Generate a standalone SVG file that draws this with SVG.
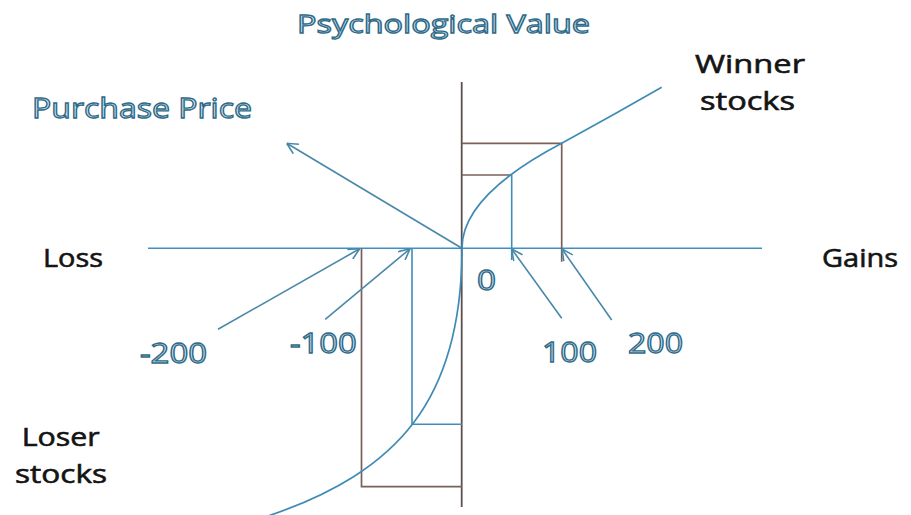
<svg xmlns="http://www.w3.org/2000/svg" width="911" height="515" viewBox="0 0 911 515">
<style>
.bg{fill:#ffffff}
.lbl{font-family:"Open Sans","Liberation Sans",sans-serif;font-size:26px;fill:#141414;stroke:#141414;stroke-width:0.6px}
.wa{font-family:"Open Sans","Liberation Sans",sans-serif;font-weight:normal;fill:#d6e9f1;stroke:#2f6a88;stroke-width:1.3px}
.axisH{stroke:#3f8fc6;stroke-width:1.6;fill:none}
.axisV{stroke:#5d4f4d;stroke-width:1.8;fill:none}
.brown{stroke:#7a5f5a;stroke-width:1.7;fill:none}
.blue{stroke:#3f8dbb;stroke-width:1.6;fill:none}
.curve{stroke:#3e8cb5;stroke-width:1.7;fill:none}
.arr{stroke:#4a88a8;stroke-width:1.6;fill:none;marker-end:url(#ah)}
</style>
<defs>
<marker id="ah" viewBox="0 0 12 12" refX="12" refY="6" markerWidth="12" markerHeight="12" markerUnits="userSpaceOnUse" orient="auto">
<path d="M1,0.5 L12,6 L1,11.5" fill="none" stroke="#4a88a8" stroke-width="1.6"/>
</marker>
</defs>
<rect class="bg" x="0" y="0" width="911" height="515"/>
<g id="axes">
<line class="axisH" x1="148" y1="248.3" x2="762" y2="248.3"/>
<line class="axisV" x1="461.7" y1="82" x2="461.7" y2="507"/>
</g>
<g id="gain-boxes">
<polyline class="brown" points="462,143.3 561.7,143.3 561.7,261.7"/>
<polyline class="brown" points="462,175 511.7,175"/>
<line class="blue" x1="511.7" y1="175" x2="511.7" y2="260"/>
</g>
<g id="loss-boxes">
<polyline class="brown" points="361.5,248.3 361.5,486.7 462,486.7"/>
<polyline class="blue" points="412,248.3 412,424.3 462,424.3"/>
</g>
<g id="value-curve">
<path class="curve" d="M462,248 Q462,195.75 561.7,143.3 Q611.7,116 661.7,87.3"/>
<path class="curve" d="M462,248 C462,400 398,472 268,516"/>
</g>
<g id="connectors">
<line class="arr" x1="461.5" y1="248" x2="286.7" y2="143.3"/>
<line class="arr" x1="218" y1="329.3" x2="359.6" y2="248.8"/>
<line class="arr" x1="325.2" y1="319.3" x2="410" y2="248.8"/>
<line class="arr" x1="561.7" y1="318.3" x2="511.7" y2="249"/>
<line class="arr" x1="611.7" y1="320" x2="562" y2="249"/>
</g>
<g id="title"><text class="wa" x="297" y="33.3" font-size="26" textLength="293" lengthAdjust="spacingAndGlyphs">Psychological Value</text></g>
<g id="purchase-price"><text class="wa" x="32" y="118.3" font-size="28" textLength="220" lengthAdjust="spacingAndGlyphs">Purchase Price</text></g>
<g id="tick-m200"><text class="wa" x="140" y="363" font-size="28" textLength="67" lengthAdjust="spacingAndGlyphs">-200</text></g>
<g id="tick-m100"><text class="wa" x="290" y="352.5" font-size="28" textLength="66.6" lengthAdjust="spacingAndGlyphs">-100</text></g>
<g id="tick-0"><text class="wa" x="477" y="290" font-size="28" textLength="19" lengthAdjust="spacingAndGlyphs">0</text></g>
<g id="tick-100"><text class="wa" x="542" y="361.7" font-size="28" textLength="55" lengthAdjust="spacingAndGlyphs">100</text></g>
<g id="tick-200"><text class="wa" x="628" y="353.3" font-size="28" textLength="55" lengthAdjust="spacingAndGlyphs">200</text></g>
<g id="loss"><text class="lbl" x="43" y="267" textLength="60" lengthAdjust="spacingAndGlyphs">Loss</text></g>
<g id="gains"><text class="lbl" x="822" y="267" textLength="76" lengthAdjust="spacingAndGlyphs">Gains</text></g>
<g id="winner-stocks">
<text class="lbl" x="695" y="72.7" textLength="110" lengthAdjust="spacingAndGlyphs">Winner</text>
<text class="lbl" x="700" y="110" textLength="95" lengthAdjust="spacingAndGlyphs">stocks</text>
</g>
<g id="loser-stocks">
<text class="lbl" x="21.7" y="446" textLength="78" lengthAdjust="spacingAndGlyphs">Loser</text>
<text class="lbl" x="15" y="483.3" textLength="92" lengthAdjust="spacingAndGlyphs">stocks</text>
</g>
</svg>
